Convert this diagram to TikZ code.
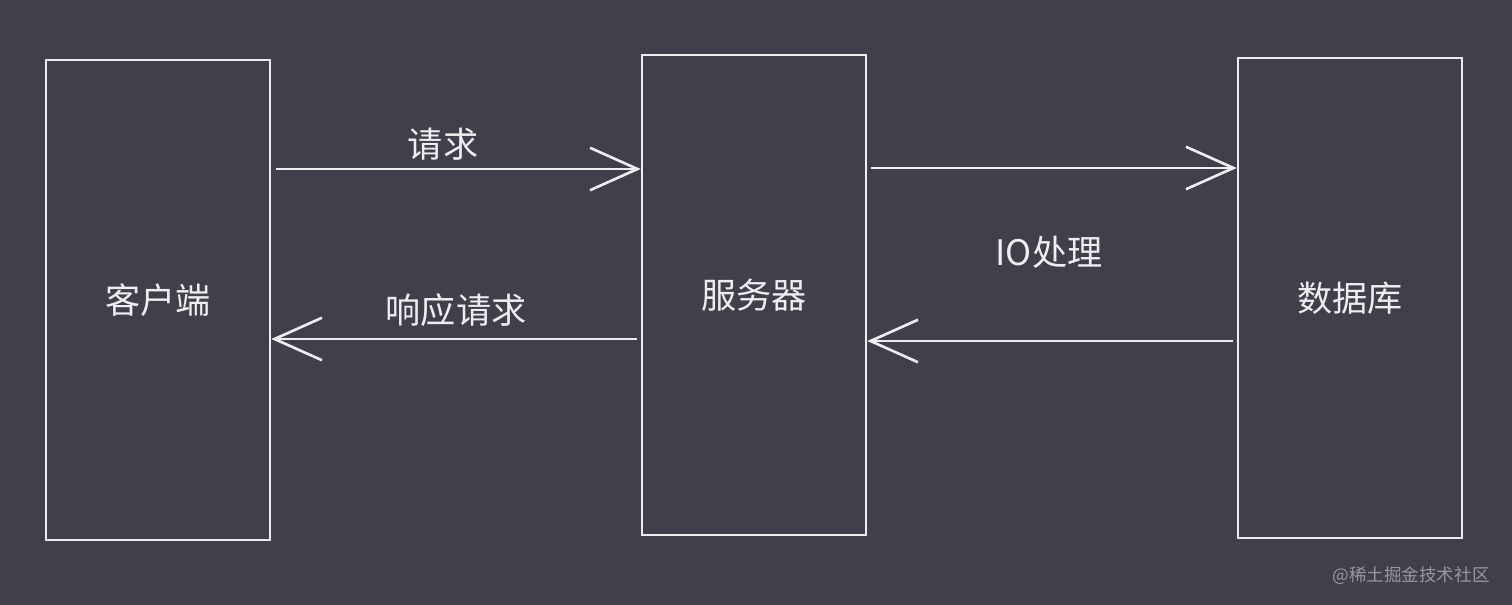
\documentclass[tikz,border=0pt]{standalone}
\usepackage{fontspec}
\setmainfont{Noto Sans CJK SC}
\usetikzlibrary{arrows.meta}
\definecolor{canvas}{RGB}{64,64,75}
\definecolor{chalk}{RGB}{238,238,240}
\definecolor{markgray}{RGB}{150,150,160}
\begin{document}
\begin{tikzpicture}[x=0.02cm, y=-0.02cm,
  box/.style={draw=chalk, line width=1.5pt, minimum width=4.48cm, minimum height=9.6cm,
    inner sep=0pt, text=chalk, font=\fontsize{20}{24}\selectfont},
  flow/.style={draw=chalk, line width=1.5pt,
    -{Straight Barb[length=0.95cm, width=0.85cm]}},
  lbl/.style={text=chalk, font=\fontsize{20}{24}\selectfont}]
\fill[canvas] (0,0) rectangle (1512,605);
\node[box] (client) at (158,300) {客户端};
\node[box] (server) at (754,295) {服务器};
\node[box] (db) at (1350,298) {数据库};
\node[lbl] (req) at (443,144) {请求};
\node[lbl] (resp) at (456,310) {响应请求};
\node[lbl] (io) at (1049,252) {IO处理};
\node[text=markgray, font=\fontsize{10}{12}\selectfont] (credit) at (1411,576) {@稀土掘金技术社区};
\draw[flow, shorten <=2.5pt] (client.east |- 0,169) -- (server.west |- 0,169);
\draw[flow, shorten <=2pt] (server.east |- 0,168) -- (db.west |- 0,168);
\draw[flow, shorten <=2pt] (server.west |- 0,339) -- (client.east |- 0,339);
\draw[flow, shorten <=2pt] (db.west |- 0,341) -- (server.east |- 0,341);
\end{tikzpicture}
\end{document}
